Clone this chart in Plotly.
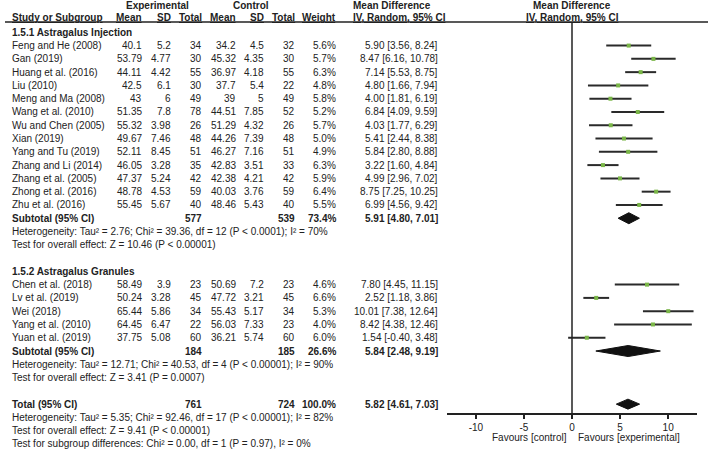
import plotly.graph_objects as go

# ---- data ----
inj_names = ["Feng and He (2008)", "Gan (2019)", "Huang et al. (2016)", "Liu (2010)",
             "Meng and Ma (2008)", "Wang et al. (2010)", "Wu and Chen (2005)", "Xian (2019)",
             "Yang and Tu (2019)", "Zhang and Li (2014)", "Zhang et al. (2005)",
             "Zhong et al. (2016)", "Zhu et al. (2016)"]
inj_exp_mean = [40.1, 53.79, 44.11, 42.5, 43, 51.35, 55.32, 49.67, 52.11, 46.05, 47.37, 48.78, 55.45]
inj_exp_sd = [5.2, 4.77, 4.42, 6.1, 6, 7.8, 3.98, 7.46, 8.45, 3.28, 5.24, 4.53, 5.67]
inj_exp_n = [34, 30, 55, 30, 49, 78, 26, 48, 51, 35, 42, 59, 40]
inj_ctl_mean = [34.2, 45.32, 36.97, 37.7, 39, 44.51, 51.29, 44.26, 46.27, 42.83, 42.38, 40.03, 48.46]
inj_ctl_sd = [4.5, 4.35, 4.18, 5.4, 5, 7.85, 4.32, 7.39, 7.16, 3.51, 4.21, 3.76, 5.43]
inj_ctl_n = [32, 30, 55, 22, 49, 52, 26, 48, 51, 33, 42, 59, 40]
inj_weight = [5.6, 5.7, 6.3, 4.8, 5.8, 5.2, 5.7, 5.0, 4.9, 6.3, 5.9, 6.4, 5.5]
inj_md = [5.90, 8.47, 7.14, 4.80, 4.00, 6.84, 4.03, 5.41, 5.84, 3.22, 4.99, 8.75, 6.99]
inj_lo = [3.56, 6.16, 5.53, 1.66, 1.81, 4.09, 1.77, 2.44, 2.80, 1.60, 2.96, 7.25, 4.56]
inj_hi = [8.24, 10.78, 8.75, 7.94, 6.19, 9.59, 6.29, 8.38, 8.88, 4.84, 7.02, 10.25, 9.42]

gran_names = ["Chen et al. (2018)", "Lv et al. (2019)", "Wei (2018)", "Yang et al. (2010)",
              "Yuan et al. (2019)"]
gran_exp_mean = [58.49, 50.24, 65.44, 64.45, 37.75]
gran_exp_sd = [3.9, 3.28, 5.86, 6.47, 5.08]
gran_exp_n = [23, 45, 34, 22, 60]
gran_ctl_mean = [50.69, 47.72, 55.43, 56.03, 36.21]
gran_ctl_sd = [7.2, 3.21, 5.17, 7.33, 5.74]
gran_ctl_n = [23, 45, 34, 23, 60]
gran_weight = [4.6, 6.6, 5.3, 4.0, 6.0]
gran_md = [7.80, 2.52, 10.01, 8.42, 1.54]
gran_lo = [4.45, 1.18, 7.38, 4.38, -0.40]
gran_hi = [11.15, 3.86, 12.64, 12.46, 3.48]

# subtotal / total rows: exp n, ctl n, weight, md, lo, hi
inj_sub = [577, 539, 73.4, 5.91, 4.80, 7.01]
gran_sub = [184, 185, 26.6, 5.84, 2.48, 9.19]
total = [761, 724, 100.0, 5.82, 4.61, 7.03]

inj_notes = ["Heterogeneity: Tau² = 2.76; Chi² = 39.36, df = 12 (P < 0.0001); I² = 70%",
             "Test for overall effect: Z = 10.46 (P < 0.00001)"]
gran_notes = ["Heterogeneity: Tau² = 12.71; Chi² = 40.53, df = 4 (P < 0.00001); I² = 90%",
              "Test for overall effect: Z = 3.41 (P = 0.0007)"]
total_notes = ["Heterogeneity: Tau² = 5.35; Chi² = 92.46, df = 17 (P < 0.00001); I² = 82%",
               "Test for overall effect: Z = 9.41 (P < 0.00001)",
               "Test for subgroup differences: Chi² = 0.00, df = 1 (P = 0.97), I² = 0%"]

tick_vals = [-10, -5, 0, 5, 10]
tick_text = ["-10", "-5", "0", "5", "10"]

# ---- layout constants (pixels) ----
W, H = 708, 451
Y0, STEP = 32.3, 13.28
AXIS_Y = 414
TXT = "#222222"
FONT = "Arial, Liberation Sans, sans-serif"

# right edges of the numeric columns
COLS = [143, 172, 203, 237, 265, 296, 337, 439]


def row_y(k):
    return Y0 + STEP * k


annotations = []


def txt(px, y, s, anchor="left", bold=False, size=10, xref="paper"):
    if bold:
        s = "<b>" + s + "</b>"
    annotations.append(dict(
        x=px / W if xref == "paper" else px, y=y, xref=xref, yref="y",
        text=s, showarrow=False, xanchor=anchor, yanchor="middle",
        font=dict(size=size, color=TXT, family=FONT), borderpad=0,
    ))


def fmt(v):
    return f"{v:g}"


def md_text(md, lo, hi):
    return f"{md:.2f} [{lo:.2f}, {hi:.2f}]"


# headers
txt(157, 5, "Experimental", "center", True)
txt(251, 5, "Control", "center", True)
txt(352, 5, "Mean Difference", "left", True)
txt(0, 5, "Mean Difference", "center", True, xref="x")
txt(10.5, 17, "<u>Study or Subgroup</u>", "left", True)
for px, lab in zip(COLS[:7], ["Mean", "SD", "Total", "Mean", "SD", "Total", "Weight"]):
    txt(px, 17, "<u>" + lab + "</u>", "right", True)
txt(352, 17, "<u>IV, Random, 95% CI</u>", "left", True)
txt(0, 17, "<u>IV, Random, 95% CI</u>", "center", True, xref="x")

fig = go.Figure()

line_x, line_y, sq_x, sq_y = [], [], [], []


def add_diamond(md, lo, hi, y, h=5.5):
    fig.add_trace(go.Scatter(
        x=[lo, md, hi, md, lo], y=[y, y - h, y, y + h, y],
        mode="lines", fill="toself", fillcolor="#111111",
        line=dict(color="#111111", width=1), hoverinfo="skip", showlegend=False,
    ))


def study_block(k0, title, names, em, es, en, cm, cs, cn, w, md, lo, hi, sub, notes):
    txt(10.5, row_y(k0), title, "left", True)
    for i, name in enumerate(names):
        y = row_y(k0 + 1 + i)
        txt(10.5, y, name)
        vals = [fmt(em[i]), fmt(es[i]), str(en[i]), fmt(cm[i]), fmt(cs[i]), str(cn[i]),
                f"{w[i]:.1f}%", md_text(md[i], lo[i], hi[i])]
        for px, v in zip(COLS, vals):
            txt(px, y, v, "right")
        line_x.extend([lo[i], hi[i], None])
        line_y.extend([y, y, None])
        sq_x.append(md[i])
        sq_y.append(y)
    ks = k0 + 1 + len(names)
    ys = row_y(ks)
    txt(10.5, ys, "Subtotal (95% CI)", "left", True)
    txt(COLS[2], ys, str(sub[0]), "right", True)
    txt(COLS[5], ys, str(sub[1]), "right", True)
    txt(COLS[6], ys, f"{sub[2]:.1f}%", "right", True)
    txt(COLS[7], ys, md_text(sub[3], sub[4], sub[5]), "right", True)
    add_diamond(sub[3], sub[4], sub[5], ys)
    for j, note in enumerate(notes):
        txt(10.5, row_y(ks + 1 + j), note)


study_block(0, "1.5.1 Astragalus Injection", inj_names, inj_exp_mean, inj_exp_sd, inj_exp_n,
            inj_ctl_mean, inj_ctl_sd, inj_ctl_n, inj_weight, inj_md, inj_lo, inj_hi,
            inj_sub, inj_notes)
study_block(18, "1.5.2 Astragalus Granules", gran_names, gran_exp_mean, gran_exp_sd, gran_exp_n,
            gran_ctl_mean, gran_ctl_sd, gran_ctl_n, gran_weight, gran_md, gran_lo, gran_hi,
            gran_sub, gran_notes)

# overall total
yt = row_y(28)
txt(10.5, yt, "Total (95% CI)", "left", True)
txt(COLS[2], yt, str(total[0]), "right", True)
txt(COLS[5], yt, str(total[1]), "right", True)
txt(COLS[6], yt, f"{total[2]:.1f}%", "right", True)
txt(COLS[7], yt, md_text(total[3], total[4], total[5]), "right", True)
add_diamond(total[3], total[4], total[5], yt, h=5)
for j, note in enumerate(total_notes):
    txt(10.5, row_y(29 + j), note)

# CI whiskers and point estimates
fig.add_trace(go.Scatter(
    x=line_x, y=line_y, mode="lines", line=dict(color="#2a2a2a", width=2),
    hoverinfo="skip", showlegend=False,
))
fig.add_trace(go.Scatter(
    x=sq_x, y=sq_y, mode="markers",
    marker=dict(symbol="square", size=4, color="#7ab648", line=dict(width=0)),
    hoverinfo="skip", showlegend=False,
))

txt(568, 437, "Favours [control]", "right")
txt(577, 437, "Favours [experimental]", "left")

fig.update_layout(
    width=W, height=H,
    margin=dict(l=0, r=0, t=0, b=0),
    paper_bgcolor="white", plot_bgcolor="white",
    annotations=annotations,
    shapes=[
        dict(type="line", xref="paper", yref="y", x0=5 / W, x1=1, y0=22, y1=22,
             line=dict(color="#222222", width=1.5)),
        dict(type="line", xref="x", yref="y", x0=0, x1=0, y0=22, y1=AXIS_Y,
             line=dict(color="#222222", width=1.5)),
    ],
    xaxis=dict(
        domain=[447 / W, 697 / W], range=[-13, 13],
        anchor="free", position=1 - AXIS_Y / H,
        showline=True, linecolor="#222222", linewidth=1.5,
        ticks="outside", ticklen=4, tickwidth=1.5, tickcolor="#222222",
        tickvals=tick_vals, ticktext=tick_text,
        tickfont=dict(size=10, color=TXT, family=FONT),
        showgrid=False, zeroline=False, fixedrange=True, automargin=False,
    ),
    yaxis=dict(
        domain=[0, 1], range=[H, 0], visible=False, showgrid=False, zeroline=False,
        fixedrange=True, automargin=False,
    ),
)

# the page body has a default 8px margin; drop it so the figure fills the window
fig.write_html(
    "out.html",
    config={"displayModeBar": False},
    post_script="document.body.style.margin='0';document.body.style.overflow='hidden';",
)
